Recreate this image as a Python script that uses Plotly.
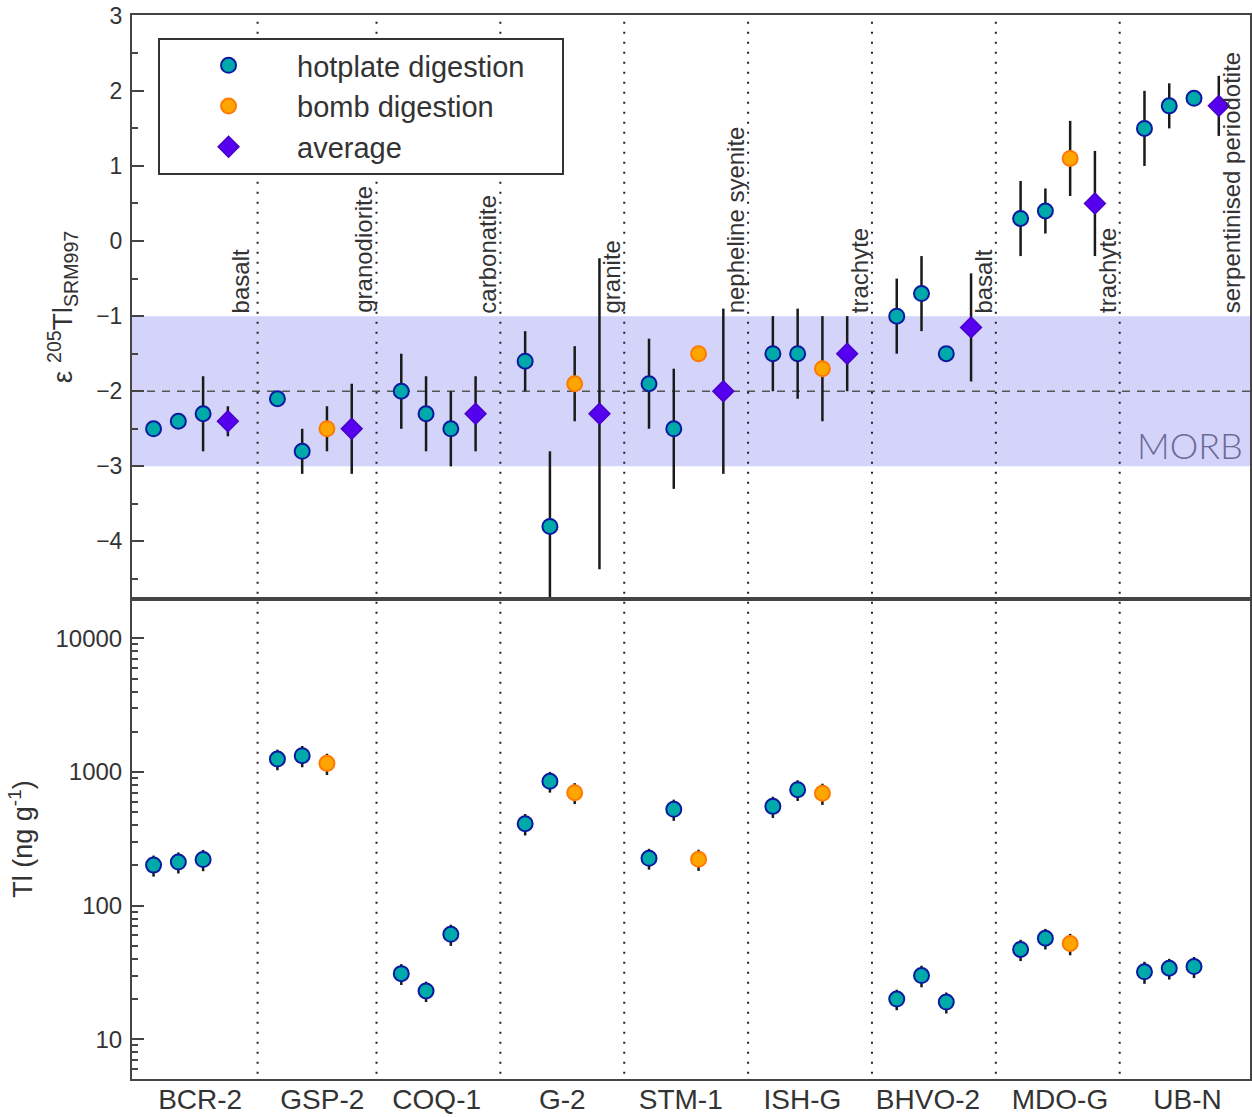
import plotly.graph_objects as go

# ---------------- data ----------------
samples = ["BCR-2", "GSP-2", "COQ-1", "G-2", "STM-1", "ISH-G", "BHVO-2", "MDO-G", "UB-N"]
rock_types = ["basalt", "granodiorite", "carbonatite", "granite", "nepheline syenite",
              "trachyte", "basalt", "trachyte", "serpentinised periodotite"]
# digestion method of the three replicate measurements: h = hotplate, b = bomb
digestion = [["h", "h", "h"], ["h", "h", "b"], ["h", "h", "h"], ["h", "h", "b"], ["h", "h", "b"],
             ["h", "h", "b"], ["h", "h", "h"], ["h", "h", "b"], ["h", "h", "h"]]
eps_meas = [[-2.5, -2.4, -2.3], [-2.1, -2.8, -2.5], [-2.0, -2.3, -2.5], [-1.6, -3.8, -1.9],
            [-1.9, -2.5, -1.5], [-1.5, -1.5, -1.7], [-1.0, -0.7, -1.5], [0.3, 0.4, 1.1],
            [1.5, 1.8, 1.9]]
eps_meas_err = [[0.1, 0.1, 0.5], [0.1, 0.3, 0.3], [0.5, 0.5, 0.5], [0.4, 1.0, 0.5],
                [0.6, 0.8, 0.1], [0.5, 0.6, 0.7], [0.5, 0.5, 0.1], [0.5, 0.3, 0.5],
                [0.5, 0.3, 0.1]]
eps_avg = [-2.4, -2.5, -2.3, -2.3, -2.0, -1.5, -1.15, 0.5, 1.8]
eps_avg_err = [0.2, 0.6, 0.5, 2.07, 1.1, 0.5, 0.72, 0.7, 0.4]
tl_conc = [[201, 212, 221], [1250, 1325, 1160], [31, 23, 61], [410, 851, 700],
           [226, 526, 222], [553, 737, 692], [20, 30, 19], [47, 57, 52], [32, 34, 35]]
tl_err = [[36, 38, 40], [220, 240, 210], [5.5, 4, 11], [75, 150, 125], [40, 95, 40],
          [100, 130, 125], [3.5, 5.5, 3.4], [8.5, 10, 9.5], [6, 6, 6.3]]
morb_range = [-3, -1]
morb_mean = -2

# ---------------- layout constants ----------------
GROUP_STEP = 5          # 3 replicates + average + gap
divider_x = [4.2, 9, 14, 19, 24, 29, 34, 39]
label_x = [1.88, 6.81, 11.43, 16.5, 21.28, 26.19, 31.26, 36.59, 41.74]

FONT = "Liberation Sans, Arial, sans-serif"
TXT = "#333333"
AX = "#444444"

hot_fill, hot_edge = "#00AAAA", "#0A1A9E"
bomb_fill, bomb_edge = "#FFA500", "#FF7A00"
avg_fill, avg_edge = "#5500EE", "#4A00C8"

# split replicate measurements by digestion type
def collect(values, errors, kind):
    xs, ys, es = [], [], []
    for g in range(len(samples)):
        for j in range(3):
            if digestion[g][j] == kind:
                xs.append(g * GROUP_STEP + j)
                ys.append(values[g][j])
                es.append(errors[g][j])
    return xs, ys, es

hx, hy, he = collect(eps_meas, eps_meas_err, "h")
bx, by, be = collect(eps_meas, eps_meas_err, "b")
ax_ = [g * GROUP_STEP + 3 for g in range(len(samples))]
chx, chy, che = collect(tl_conc, tl_err, "h")
cbx, cby, cbe = collect(tl_conc, tl_err, "b")

err_style = dict(type="data", color="#1a1a1a", thickness=2.5, width=0, visible=True)

fig = go.Figure()
pad = "\u00a0" * 4
fig.add_trace(go.Scatter(
    x=hx, y=hy, mode="markers", name="hotplate digestion" + pad,
    marker=dict(size=15, color=hot_fill, line=dict(color=hot_edge, width=2)),
    error_y=dict(array=he, **err_style), xaxis="x", yaxis="y"))
fig.add_trace(go.Scatter(
    x=bx, y=by, mode="markers", name="bomb digestion",
    marker=dict(size=15, color=bomb_fill, line=dict(color=bomb_edge, width=2)),
    error_y=dict(array=be, **err_style), xaxis="x", yaxis="y"))
fig.add_trace(go.Scatter(
    x=ax_, y=eps_avg, mode="markers", name="average",
    marker=dict(size=16, symbol="diamond", color=avg_fill, line=dict(color=avg_edge, width=1.5)),
    error_y=dict(array=eps_avg_err, **err_style), xaxis="x", yaxis="y"))
fig.add_trace(go.Scatter(
    x=chx, y=chy, mode="markers", showlegend=False,
    marker=dict(size=15, color=hot_fill, line=dict(color=hot_edge, width=2)),
    error_y=dict(array=che, **err_style), xaxis="x2", yaxis="y2"))
fig.add_trace(go.Scatter(
    x=cbx, y=cby, mode="markers", showlegend=False,
    marker=dict(size=15, color=bomb_fill, line=dict(color=bomb_edge, width=2)),
    error_y=dict(array=cbe, **err_style), xaxis="x2", yaxis="y2"))

shapes = [
    dict(type="rect", xref="x domain", yref="y", x0=0, x1=1, y0=morb_range[0], y1=morb_range[1],
         fillcolor="#D4D4FA", line=dict(width=0), layer="below"),
    dict(type="line", xref="x domain", yref="y", x0=0, x1=1, y0=morb_mean, y1=morb_mean,
         line=dict(color="#555555", width=1.5, dash="8px,7px"), layer="below"),
]
for dx in divider_x:
    shapes.append(dict(type="line", xref="x", yref="paper", x0=dx, x1=dx, y0=0.005, y1=0.995,
                       line=dict(color="#222222", width=2, dash="2px,8px"), layer="below"))

annotations = []
for g, rt in enumerate(rock_types):
    annotations.append(dict(x=g * GROUP_STEP + 3.5, y=morb_range[1], xref="x", yref="y",
                            text=rt, textangle=-90, showarrow=False, xanchor="center",
                            yanchor="bottom", yshift=1,
                            font=dict(family=FONT, size=24, color=TXT)))
annotations.append(dict(x=1, y=morb_range[0], xref="x domain", yref="y", text="MORB",
                        showarrow=False, xanchor="right", yanchor="bottom", xshift=-5,
                        yshift=-3,
                        font=dict(family="Lato, Liberation Sans, sans-serif", size=36,
                                  color="#6B6B96", weight=300)))

xr = [-0.87, 44.26]
split = 0.4511
axis_common = dict(showline=True, linecolor=AX, linewidth=2, mirror=True, showgrid=False,
                   zeroline=False, automargin=False)

fig.update_layout(
    width=1252, height=1117,
    margin=dict(l=132, r=2, t=15, b=38, autoexpand=False),
    paper_bgcolor="white", plot_bgcolor="white",
    font=dict(family=FONT, color=TXT),
    shapes=shapes, annotations=annotations,
    showlegend=True,
    legend=dict(x=0.0233, y=0.9784, xanchor="left", yanchor="top",
                bgcolor="white", bordercolor="#333333", borderwidth=2,
                font=dict(family=FONT, size=29, color=TXT), itemwidth=127,
                tracegroupgap=0),
    xaxis=dict(domain=[0, 1], anchor="y", range=xr, showticklabels=False, ticks="",
               **axis_common),
    yaxis=dict(domain=[split, 1], anchor="x", range=[-4.767, 3.01], tick0=0, dtick=1,
               ticks="inside", ticklen=12, tickwidth=2, tickcolor=AX,
               minor=dict(ticks="inside", dtick=0.5, ticklen=6, tickwidth=1.5, tickcolor=AX),
               tickfont=dict(family=FONT, size=23, color=TXT), ticklabelstandoff=3,
               title=dict(text="ε <sup>205</sup>Tl<sub>SRM997</sub>", standoff=15,
                          font=dict(family=FONT, size=28, color=TXT)),
               **axis_common),
    xaxis2=dict(domain=[0, 1], anchor="y2", range=xr, tickmode="array", tickvals=label_x,
                ticktext=samples, ticks="", tickfont=dict(family=FONT, size=28, color=TXT),
                ticklabelstandoff=-6,
                **axis_common),
    yaxis2=dict(domain=[0, split], anchor="x2", type="log", range=[0.703, 4.294],
                tickvals=[10, 100, 1000, 10000], ticktext=["10", "100", "1000", "10000"],
                ticks="inside", ticklen=12, tickwidth=2, tickcolor=AX,
                minor=dict(ticks="inside", dtick="D1", ticklen=6, tickwidth=1.5, tickcolor=AX),
                tickfont=dict(family=FONT, size=24, color=TXT), ticklabelstandoff=3,
                title=dict(text="Tl (ng g<sup>-1</sup>)", standoff=15,
                           font=dict(family=FONT, size=27, color=TXT)),
                **axis_common),
)

fig.write_html("out.html", config={"displayModeBar": False},
               post_script="document.body.style.margin='0';"
                           "document.body.style.overflow='hidden';")
